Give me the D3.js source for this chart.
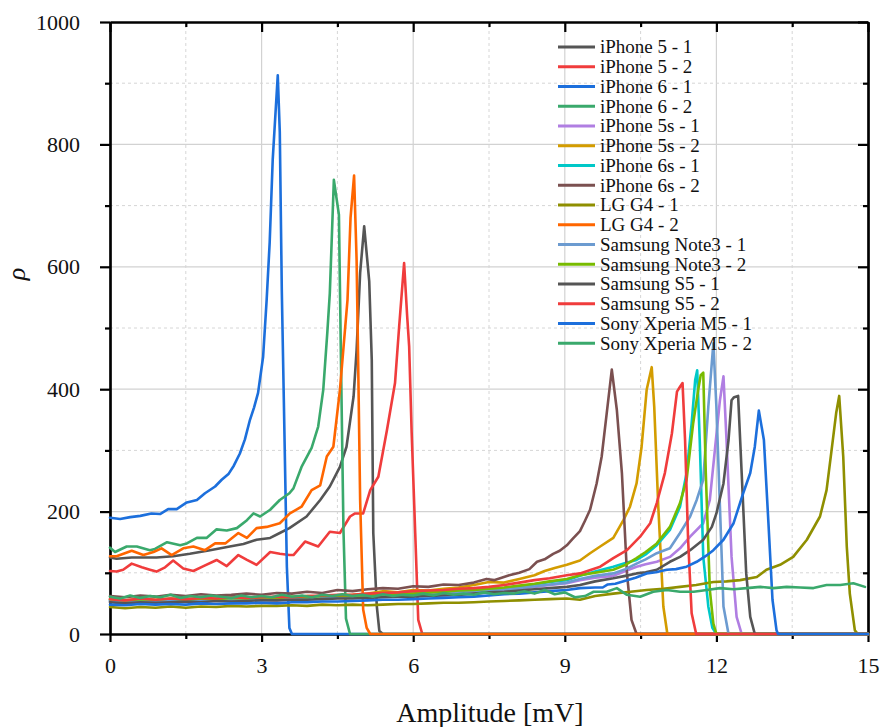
<!DOCTYPE html>
<html>
<head>
<meta charset="utf-8">
<script src="https://cdn.jsdelivr.net/npm/d3@7"></script>
<style>
  html, body { margin: 0; padding: 0; background: #fff; }
  svg { display: block; }
  text { font-family: "Liberation Serif", "Times New Roman", serif; fill: #111; }
</style>
</head>
<body>
<svg id="chart" width="880" height="727"></svg>
<script>
// ρ versus amplitude, one [amplitude (mV), ρ] list per device recording
const iphone5_1 = [[0,125],[0.13,123],[0.43,125],[0.92,125],[1.25,127],[1.58,131],[1.98,137],[2.37,143],[2.64,147],[2.90,154],[3.17,157],[3.36,165],[3.55,173],[3.89,192],[4.16,219],[4.35,241],[4.55,273],[4.68,306],[4.82,388],[4.88,464],[4.95,590],[5.03,666],[5.13,576],[5.18,448],[5.21,165],[5.28,45],[5.33,5],[5.4,0],[15,0]];
const iphone5_2 = [[0,103],[0.13,102],[0.26,105],[0.43,115],[0.63,109],[0.79,105],[0.92,102],[1.09,109],[1.25,120],[1.45,107],[1.65,103],[1.85,111],[2.11,121],[2.31,111],[2.54,129],[2.71,121],[2.90,113],[3.17,134],[3.36,131],[3.55,129],[3.63,129],[3.86,151],[4.12,143],[4.35,167],[4.55,165],[4.75,192],[4.85,197],[5.01,197],[5.15,235],[5.31,257],[5.48,333],[5.64,410],[5.72,500],[5.82,606],[5.88,520],[5.92,470],[5.97,328],[6.04,165],[6.10,23],[6.18,0],[15,0]];
const iphone6_1 = [[0,190],[0.2,188],[0.4,191],[0.6,193],[0.82,197],[0.99,196],[1.15,204],[1.32,204],[1.52,215],[1.72,219],[1.88,230],[2.08,241],[2.21,252],[2.35,262],[2.45,275],[2.57,295],[2.67,318],[2.77,350],[2.85,370],[2.93,394],[3.03,453],[3.1,546],[3.16,640],[3.22,775],[3.32,913],[3.36,820],[3.40,560],[3.44,382],[3.5,110],[3.55,10],[3.6,0],[15,0]];
const iphone6_2 = [[0,141],[0.1,134],[0.33,143],[0.53,143],[0.79,137],[0.89,139],[1.13,150],[1.39,145],[1.52,148],[1.72,157],[1.91,157],[2.11,171],[2.31,169],[2.51,173],[2.71,186],[2.84,197],[2.97,192],[3.17,203],[3.36,219],[3.55,230],[3.63,238],[3.79,273],[3.99,304],[4.12,339],[4.22,399],[4.30,492],[4.35,557],[4.43,742],[4.53,685],[4.57,450],[4.62,170],[4.67,25],[4.75,0],[15,0]];
const iphone5s_1 = [[0,53],[0.3,51],[0.6,53],[0.9,52],[1.2,54],[1.5,53],[1.8,54],[2.1,55],[2.4,54],[2.7,55],[3.0,56],[3.3,55],[3.6,57],[3.9,57],[4.2,58],[4.5,59],[4.8,59],[5.1,60],[5.4,61],[5.7,62],[6.0,63],[6.3,64],[6.6,65],[6.9,66],[7.2,68],[7.5,70],[7.8,72],[8.1,74],[8.4,77],[8.7,80],[9.04,83],[9.3,88],[9.6,92],[9.96,95],[10.2,103],[10.42,110],[10.6,114],[10.82,118],[11.08,126],[11.28,140],[11.48,159],[11.74,181],[11.87,219],[11.97,301],[12.07,382],[12.14,421],[12.2,317],[12.3,126],[12.4,28],[12.5,0],[15,0]];
const iphone5s_2 = [[0,56],[0.3,54],[0.6,57],[0.9,55],[1.2,56],[1.5,58],[1.8,56],[2.1,58],[2.4,57],[2.7,59],[3.0,58],[3.3,60],[3.6,59],[3.9,62],[4.2,61],[4.5,63],[4.8,64],[5.1,66],[5.4,70],[5.7,68],[6.0,72],[6.3,71],[6.6,74],[6.9,76],[7.2,80],[7.5,85],[7.8,84],[8.1,90],[8.4,96],[8.6,103],[8.8,108],[9.04,113],[9.3,120],[9.5,132],[9.7,143],[9.96,157],[10.16,186],[10.29,208],[10.42,246],[10.52,306],[10.62,399],[10.72,436],[10.77,371],[10.85,208],[10.95,45],[11.03,0],[15,0]];
const iphone6s_1 = [[0,55],[0.3,53],[0.6,55],[0.9,54],[1.2,56],[1.5,55],[1.8,56],[2.1,57],[2.4,56],[2.7,58],[3.0,57],[3.3,59],[3.6,58],[3.9,60],[4.2,61],[4.5,62],[4.8,62],[5.1,63],[5.4,64],[5.7,65],[6.0,66],[6.3,67],[6.6,69],[6.9,70],[7.2,72],[7.5,73],[7.8,75],[8.1,78],[8.4,81],[8.7,85],[9.04,88],[9.3,95],[9.6,102],[9.96,110],[10.2,116],[10.42,121],[10.6,130],[10.82,145],[11.08,170],[11.28,208],[11.41,263],[11.51,344],[11.58,415],[11.62,431],[11.67,317],[11.74,126],[11.84,45],[11.92,10],[12.0,0],[15,0]];
const iphone6s_2 = [[0,62],[0.3,60],[0.6,63],[0.9,61],[1.2,64],[1.5,62],[1.8,65],[2.1,63],[2.4,64],[2.7,66],[3.0,64],[3.3,67],[3.6,66],[3.9,69],[4.2,67],[4.5,72],[4.8,70],[5.1,73],[5.4,75],[5.7,74],[6.0,78],[6.3,77],[6.6,81],[6.9,80],[7.2,84],[7.45,90],[7.6,88],[7.9,96],[8.1,100],[8.3,106],[8.45,118],[8.6,122],[8.77,131],[8.9,136],[9.04,145],[9.15,155],[9.3,168],[9.4,185],[9.5,203],[9.63,246],[9.73,290],[9.83,361],[9.93,432],[10.03,366],[10.13,263],[10.23,99],[10.32,23],[10.42,0],[15,0]];
const lgG4_1 = [[0,44],[0.3,42],[0.6,44],[0.9,43],[1.2,45],[1.5,43],[1.8,45],[2.1,44],[2.4,46],[2.7,45],[3.0,46],[3.3,46],[3.6,47],[3.9,46],[4.2,48],[4.5,47],[4.8,48],[5.1,47],[5.4,48],[5.7,49],[6.0,49],[6.3,50],[6.6,51],[6.9,51],[7.2,52],[7.5,53],[7.8,54],[8.1,55],[8.4,56],[8.7,57],[9.04,58],[9.3,56],[9.6,62],[9.96,66],[10.3,69],[10.62,72],[10.95,74],[11.28,77],[11.6,80],[11.94,85],[12.2,86],[12.47,88],[12.8,93],[12.99,105],[13.26,113],[13.52,126],[13.79,154],[14.05,192],[14.18,235],[14.28,301],[14.37,361],[14.43,389],[14.51,290],[14.58,143],[14.64,66],[14.74,6],[14.8,0],[15,0]];
const lgG4_2 = [[0,127],[0.13,127],[0.43,136],[0.66,129],[0.86,134],[1.02,140],[1.22,129],[1.45,140],[1.65,143],[1.88,137],[2.08,148],[2.28,148],[2.54,165],[2.71,157],[2.90,173],[3.10,175],[3.36,181],[3.56,197],[3.79,208],[3.99,235],[4.16,243],[4.29,290],[4.42,306],[4.55,399],[4.65,497],[4.70,546],[4.76,680],[4.83,749],[4.88,611],[4.91,448],[4.95,219],[5.01,40],[5.08,10],[5.15,0],[15,0]];
const note3_1 = [[0,54],[0.3,52],[0.6,54],[0.9,53],[1.2,55],[1.5,54],[1.8,55],[2.1,56],[2.4,55],[2.7,57],[3.0,56],[3.3,57],[3.6,58],[3.9,58],[4.2,59],[4.5,60],[4.8,61],[5.1,62],[5.4,62],[5.7,63],[6.0,64],[6.3,66],[6.6,67],[6.9,68],[7.2,70],[7.5,71],[7.8,73],[8.1,75],[8.4,78],[8.7,81],[9.04,84],[9.3,90],[9.6,95],[9.96,99],[10.2,106],[10.42,115],[10.6,122],[10.82,132],[11.08,140],[11.28,165],[11.48,192],[11.61,219],[11.74,252],[11.84,371],[11.94,475],[12.0,371],[12.07,208],[12.14,45],[12.24,0],[15,0]];
const note3_2 = [[0,57],[0.3,55],[0.6,57],[0.9,56],[1.2,58],[1.5,56],[1.8,58],[2.1,57],[2.4,59],[2.7,58],[3.0,60],[3.3,59],[3.6,61],[3.9,60],[4.2,62],[4.5,63],[4.8,62],[5.1,64],[5.4,65],[5.7,66],[6.0,66],[6.3,68],[6.6,69],[6.9,71],[7.2,72],[7.5,74],[7.8,76],[8.1,79],[8.4,82],[8.7,86],[9.04,90],[9.3,96],[9.6,100],[9.96,105],[10.2,113],[10.42,124],[10.6,134],[10.82,148],[11.08,175],[11.28,214],[11.41,252],[11.54,344],[11.64,399],[11.69,423],[11.74,427],[11.79,263],[11.87,72],[11.94,17],[12.0,0],[15,0]];
const s5_1 = [[0,52],[0.3,50],[0.6,52],[0.9,51],[1.2,52],[1.5,53],[1.8,52],[2.1,54],[2.4,53],[2.7,54],[3.0,55],[3.3,55],[3.6,56],[3.9,56],[4.2,57],[4.5,58],[4.8,58],[5.1,59],[5.4,60],[5.7,61],[6.0,61],[6.3,62],[6.6,63],[6.9,64],[7.2,66],[7.5,68],[7.8,69],[8.1,71],[8.4,73],[8.7,75],[9.04,77],[9.3,80],[9.6,86],[9.96,91],[10.2,95],[10.42,99],[10.6,101],[10.82,105],[11.08,118],[11.28,126],[11.48,137],[11.74,154],[11.91,175],[12.0,197],[12.14,246],[12.24,317],[12.3,382],[12.35,387],[12.43,389],[12.5,263],[12.59,99],[12.67,28],[12.76,0],[15,0]];
const s5_2 = [[0,57],[0.3,55],[0.6,58],[0.9,56],[1.2,58],[1.5,57],[1.8,59],[2.1,58],[2.4,60],[2.7,59],[3.0,60],[3.3,61],[3.6,60],[3.9,62],[4.2,63],[4.5,64],[4.8,64],[5.1,66],[5.4,67],[5.7,68],[6.0,70],[6.3,71],[6.6,72],[6.9,74],[7.2,75],[7.5,77],[7.8,80],[8.1,84],[8.4,88],[8.7,91],[9.04,96],[9.3,99],[9.7,110],[9.96,124],[10.23,137],[10.49,159],[10.69,181],[10.82,214],[10.98,263],[11.12,328],[11.22,396],[11.28,404],[11.33,410],[11.38,317],[11.44,154],[11.51,34],[11.6,0],[15,0]];
const xperiaM5_1 = [[0,48],[0.3,47],[0.6,49],[0.9,48],[1.2,49],[1.5,48],[1.8,50],[2.1,49],[2.4,50],[2.7,50],[3.0,51],[3.3,50],[3.6,52],[3.9,52],[4.2,53],[4.5,53],[4.8,54],[5.1,55],[5.4,56],[5.7,56],[6.0,57],[6.3,58],[6.6,59],[6.9,60],[7.2,61],[7.5,63],[7.8,65],[8.1,66],[8.4,68],[8.7,70],[9.04,72],[9.3,75],[9.6,76],[9.75,76],[9.85,81],[10.0,82],[10.23,88],[10.4,92],[10.62,99],[10.8,101],[11.02,105],[11.2,106],[11.41,110],[11.61,118],[11.8,128],[11.94,137],[12.14,154],[12.34,181],[12.53,230],[12.67,263],[12.76,306],[12.84,365],[12.94,317],[13.03,181],[13.11,56],[13.19,6],[13.22,0],[15,0]];
const xperiaM5_2 = [[0,61],[0.2,58],[0.4,63],[0.6,59],[0.8,62],[1.0,60],[1.2,64],[1.4,59],[1.6,62],[1.8,60],[2.0,63],[2.2,61],[2.4,59],[2.6,63],[2.8,60],[3.0,62],[3.2,60],[3.4,64],[3.6,61],[3.8,63],[4.0,60],[4.2,64],[4.4,62],[4.6,65],[4.8,62],[5.0,64],[5.2,61],[5.4,65],[5.6,62],[5.8,64],[6.0,63],[6.2,66],[6.4,63],[6.6,67],[6.8,64],[7.0,66],[7.2,64],[7.4,68],[7.6,65],[7.8,67],[8.0,66],[8.2,70],[8.4,66],[8.6,72],[8.8,65],[9.0,68],[9.2,60],[9.4,62],[9.57,69],[9.83,69],[10.03,75],[10.23,64],[10.49,61],[10.75,69],[11.02,72],[11.28,69],[11.55,69],[11.81,72],[12.07,75],[12.34,73],[12.6,75],[12.87,77],[13.13,75],[13.39,77],[13.66,76],[13.92,75],[14.18,80],[14.45,80],[14.71,83],[14.94,77]];

const seriesNames = ["iPhone 5 - 1", "iPhone 5 - 2", "iPhone 6 - 1", "iPhone 6 - 2",
  "iPhone 5s - 1", "iPhone 5s - 2", "iPhone 6s - 1", "iPhone 6s - 2",
  "LG G4 - 1", "LG G4 - 2", "Samsung Note3 - 1", "Samsung Note3 - 2",
  "Samsung S5 - 1", "Samsung S5 - 2", "Sony Xperia M5 - 1", "Sony Xperia M5 - 2"];
const seriesData = [iphone5_1, iphone5_2, iphone6_1, iphone6_2,
  iphone5s_1, iphone5s_2, iphone6s_1, iphone6s_2,
  lgG4_1, lgG4_2, note3_1, note3_2, s5_1, s5_2, xperiaM5_1, xperiaM5_2];
const seriesColors = ["#555555", "#f03c3c", "#1c6fdc", "#3aa96c",
  "#b07ee2", "#d39c00", "#00c8c8", "#7b5050",
  "#8f8f00", "#ff6600", "#6c9bd0", "#78bb00",
  "#555555", "#f03c3c", "#1c6fdc", "#3aa96c"];

const xMajorTicks = [0, 3, 6, 9, 12, 15];
const xMinorTicks = [1.5, 4.5, 7.5, 10.5, 13.5];
const yMajorTicks = [0, 200, 400, 600, 800, 1000];
const yMinorTicks = [100, 300, 500, 700, 900];

const svg = d3.select("#chart");
const x = d3.scaleLinear().domain([0, 15]).range([110, 868]);
const y = d3.scaleLinear().domain([0, 1000]).range([634, 22]);
const tickFmt = d3.format("d");

// grid: solid at major ticks, dashed at minor ticks
const grid = svg.append("g");
grid.selectAll(".gxM").data(xMajorTicks.slice(1, -1)).join("line")
  .attr("x1", d => x(d)).attr("x2", d => x(d)).attr("y1", y(0)).attr("y2", y(1000))
  .attr("stroke", "#d2d2d2").attr("stroke-width", 1.2);
grid.selectAll(".gyM").data(yMajorTicks.slice(1, -1)).join("line")
  .attr("x1", x(0)).attr("x2", x(15)).attr("y1", d => y(d)).attr("y2", d => y(d))
  .attr("stroke", "#d2d2d2").attr("stroke-width", 1.2);
grid.selectAll(".gxm").data(xMinorTicks).join("line")
  .attr("x1", d => x(d)).attr("x2", d => x(d)).attr("y1", y(0)).attr("y2", y(1000))
  .attr("stroke", "#d6d6d6").attr("stroke-width", 1).attr("stroke-dasharray", "3,3");
grid.selectAll(".gym").data(yMinorTicks).join("line")
  .attr("x1", x(0)).attr("x2", x(15)).attr("y1", d => y(d)).attr("y2", d => y(d))
  .attr("stroke", "#d6d6d6").attr("stroke-width", 1).attr("stroke-dasharray", "3,3");

// axes on all four sides
function styleAxis(g) {
  g.selectAll(".domain").attr("stroke", "#000").attr("stroke-width", 2.2);
  g.selectAll(".tick line").attr("stroke", "#000").attr("stroke-width", 2.2);
  g.selectAll("text").attr("font-family", "Liberation Serif").attr("font-size", 22).attr("fill", "#111");
}
svg.append("g").attr("transform", `translate(0,${y(0)})`)
  .call(d3.axisBottom(x).tickValues(xMajorTicks).tickSize(8).tickSizeOuter(0).tickPadding(15).tickFormat(tickFmt))
  .call(styleAxis);
svg.append("g").attr("transform", `translate(0,${y(0)})`)
  .call(d3.axisBottom(x).tickValues(xMinorTicks).tickSize(5).tickSizeOuter(0).tickFormat(""))
  .call(styleAxis);
svg.append("g").attr("transform", `translate(${x(0)},0)`)
  .call(d3.axisLeft(y).tickValues(yMajorTicks).tickSize(10).tickSizeOuter(0).tickPadding(20).tickFormat(tickFmt))
  .call(styleAxis);
svg.append("g").attr("transform", `translate(${x(0)},0)`)
  .call(d3.axisLeft(y).tickValues(yMinorTicks).tickSize(5).tickSizeOuter(0).tickFormat(""))
  .call(styleAxis);
svg.append("g").attr("transform", `translate(0,${y(1000)})`)
  .call(d3.axisTop(x).tickValues(xMajorTicks).tickSize(-10).tickSizeOuter(0).tickFormat(""))
  .call(styleAxis);
svg.append("g").attr("transform", `translate(0,${y(1000)})`)
  .call(d3.axisTop(x).tickValues(xMinorTicks).tickSize(-5).tickSizeOuter(0).tickFormat(""))
  .call(styleAxis);
svg.append("g").attr("transform", `translate(${x(15)},0)`)
  .call(d3.axisRight(y).tickValues(yMajorTicks).tickSize(-10).tickSizeOuter(0).tickFormat(""))
  .call(styleAxis);
svg.append("g").attr("transform", `translate(${x(15)},0)`)
  .call(d3.axisRight(y).tickValues(yMinorTicks).tickSize(-5).tickSizeOuter(0).tickFormat(""))
  .call(styleAxis);

// axis titles
svg.append("text").attr("x", 490).attr("y", 722).attr("text-anchor", "middle")
  .attr("font-size", 28).text("Amplitude [mV]");
svg.append("text").attr("transform", "translate(25,274) rotate(-90)").attr("text-anchor", "middle")
  .attr("font-size", 26).attr("font-style", "italic").text("ρ");

// curves
const line = d3.line().x(d => x(d[0])).y(d => y(d[1]));
svg.append("g").selectAll("path").data(seriesData).join("path")
  .attr("d", line)
  .attr("fill", "none")
  .attr("stroke", (d, i) => seriesColors[i])
  .attr("stroke-width", 2.6)
  .attr("stroke-linejoin", "round")
  .attr("stroke-linecap", "round");

// legend
const legend = svg.append("g").attr("transform", "translate(558,47)");
const rows = legend.selectAll("g").data(seriesNames).join("g")
  .attr("transform", (d, i) => `translate(0,${i * 19.75})`);
rows.append("line").attr("x1", 0).attr("x2", 37).attr("y1", 0).attr("y2", 0)
  .attr("stroke", (d, i) => seriesColors[i]).attr("stroke-width", 2.8);
rows.append("text").attr("x", 42).attr("y", 0).attr("dy", "0.33em")
  .attr("font-size", 19).text(d => d);
</script>
</body>
</html>
